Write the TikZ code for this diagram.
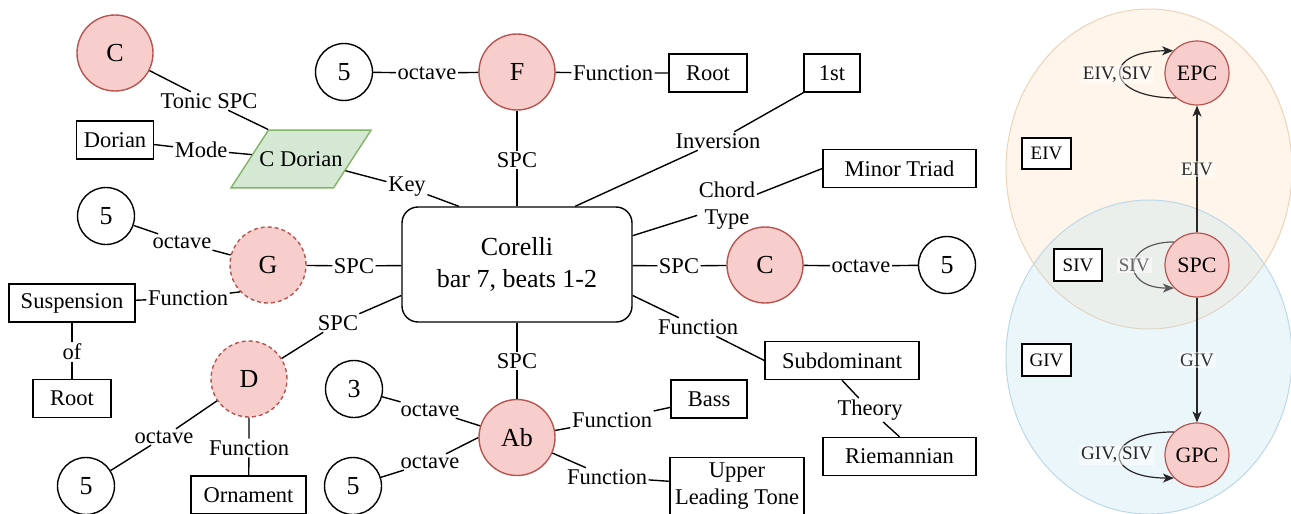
\documentclass[tikz,border=0pt]{standalone}
\usepackage{fontspec}
\setmainfont{Liberation Serif}
\usetikzlibrary{shapes.geometric,arrows.meta}
\definecolor{pcfill}{HTML}{F8CECC}
\definecolor{pcline}{HTML}{B85450}
\definecolor{gfill}{HTML}{D5E8D4}
\definecolor{gline}{HTML}{82B366}
\definecolor{ofill}{HTML}{FFE6CC}
\definecolor{oline}{HTML}{EDD3B8}
\definecolor{bfill}{HTML}{B1DDF0}
\definecolor{bline}{HTML}{BCD8E6}
\newcommand\fbig{\fontsize{26}{32}\selectfont}
\newcommand\fmid{\fontsize{22.5}{27}\selectfont}
\newcommand\fsml{\fontsize{19}{22}\selectfont}
\newcommand\fpc{\fontsize{22}{26}\selectfont}
\begin{document}
\begin{tikzpicture}[x=1pt,y=-1pt,
  pc/.style={circle,draw=pcline,fill=pcfill,line width=1.4pt,minimum size=76pt,inner sep=0pt,font=\fbig},
  pcd/.style={pc,dash pattern=on 4pt off 3pt},
  octn/.style={circle,draw,line width=1.4pt,minimum size=57pt,inner sep=0pt,font=\fbig},
  boxn/.style={rectangle,draw,line width=1.4pt,minimum height=38pt,inner sep=0pt,font=\fmid,align=center},
  lbl/.style={inner sep=1.5pt,font=\fmid,align=center},
  conn/.style={line width=1.4pt},
  rpc/.style={circle,draw=pcline,fill=pcfill,line width=1.2pt,minimum size=64pt,inner sep=0pt,font=\fpc},
  rbox/.style={rectangle,draw,fill=white,line width=1.4pt,minimum width=49pt,minimum height=31pt,inner sep=0pt,font=\fsml},
  elbl/.style={fill=white,fill opacity=0.5,text opacity=1,inner sep=2pt,font=\fsml},
  arr/.style={line width=1.2pt,draw=black!85,-{Stealth[length=11pt,width=9pt,inset=3pt]}},
]
\useasboundingbox (0,0) rectangle (1291,514);

% ---------- right panel ----------
\draw[draw=oline,fill=ofill,fill opacity=0.4,line width=1pt] (1149,169) ellipse [x radius=143pt,y radius=160pt];
\draw[draw=bline,fill=bfill,fill opacity=0.25,line width=1pt] (1149,357) ellipse [x radius=143pt,y radius=157pt];

\node[rpc] (epc) at (1197,73) {EPC};
\node[rpc] (spc) at (1197,265) {SPC};
\node[rpc] (gpc) at (1197,455) {GPC};
\node[rbox] (eivb) at (1046.5,153.5) {EIV};
\node[rbox,minimum width=48pt,minimum height=32pt] (sivb) at (1078,265) {SIV};
\node[rbox,minimum height=32pt] (givb) at (1046.5,360) {GIV};

\draw[arr] (spc) -- node[elbl,text=black!80]{EIV} (epc);
\draw[arr] (spc) -- node[elbl,text=black!80]{GIV} (gpc);
\draw[arr] (epc.230) .. controls +(-72,0) and +(-72,0) .. node[elbl,text=black!85,xshift=-3pt]{EIV, SIV} (epc.137);
\draw[arr,draw=black!65] (spc.135) .. controls +(-53,0) and +(-53,0) .. node[elbl,text=black!60]{SIV} (spc.225);
\draw[arr] (gpc.135) .. controls +(-72,0) and +(-72,0) .. node[elbl,text=black!85,xshift=-3pt]{GIV, SIV} (gpc.225);

% ---------- left panel nodes ----------
\node[rectangle,draw,rounded corners=16pt,line width=1.4pt,minimum width=230pt,minimum height=115pt,align=center,font=\fbig] (corelli) at (517,264.5) {Corelli\\bar 7, beats 1-2};

\node[pc] (cT) at (115,53) {C};
\node[lbl] (tonicL) at (209,101) {Tonic SPC};
\node[boxn,minimum width=77pt] (dorian) at (115,140) {Dorian};
\node[lbl] (modeL) at (201,150) {Mode};
\node[trapezium,trapezium left angle=57,trapezium right angle=123,
      inner xsep=-9pt,inner ysep=21.3pt,draw=gline,fill=gfill,line width=1.4pt,
      font=\fmid] (cdor) at (301,159) {C Dorian};
\node[lbl] (keyL) at (407,187) {Key};

\node[pc] (F) at (517,72) {F};
\node[lbl] (spcF) at (517,160) {SPC};
\node[octn] (o5a) at (344,72) {5};
\node[lbl] (octF) at (427,73) {octave};
\node[lbl] (funcF) at (613,73) {Function};
\node[boxn,minimum width=78pt] (rootF) at (708,73) {Root};

\node[boxn,minimum width=56pt] (first) at (832,73) {1st};
\node[lbl] (invL) at (718,141) {Inversion};
\node[boxn,minimum width=153pt] (minor) at (899.5,168.5) {Minor Triad};
\node[lbl] (chordL) at (727,206) {Chord\\Type};

\node[pc] (cR) at (765,265) {C};
\node[lbl] (spcC) at (679,266) {SPC};
\node[lbl] (octC) at (861,266) {octave};
\begin{scope}
  \clip (900,200) rectangle (976,330);
  \node[octn] (o5c) at (947,265) {5};
\end{scope}

\node[lbl] (funcS) at (698,327) {Function};
\node[boxn,minimum width=154pt] (subdom) at (842,360.5) {Subdominant};
\node[lbl] (theoryL) at (870,410) {Theory};
\node[boxn,minimum width=153pt] (riem) at (899.5,456.5) {Riemannian};

\node[pc] (ab) at (517,437.5) {Ab};
\node[lbl] (spcAb) at (517,361) {SPC};
\node[octn] (o3) at (354,389) {3};
\node[lbl] (octAb1) at (430,410) {octave};
\node[octn] (o5d) at (353,486) {5};
\node[lbl] (octAb2) at (430,462) {octave};
\node[lbl] (funcBass) at (612,420) {Function};
\node[boxn,minimum width=76pt] (bass) at (709,399) {Bass};
\node[lbl] (funcULT) at (607,477) {Function};
\node[boxn,minimum width=134pt,minimum height=57pt] (ult) at (737,486) {Upper\\Leading Tone};

\node[pcd] (g) at (268,265) {G};
\node[lbl] (spcG) at (354,266) {SPC};
\node[octn] (o5b) at (106,216) {5};
\node[lbl] (octG) at (182,242) {octave};
\node[lbl] (funcG) at (188,298) {Function};
\node[boxn,minimum width=126pt] (susp) at (72,303) {Suspension};
\node[lbl] (ofL) at (72,352) {of};
\node[boxn,minimum width=78pt] (rootS) at (72,398.5) {Root};

\node[pcd] (d) at (249,379) {D};
\node[lbl] (spcD) at (338,323) {SPC};
\node[lbl] (octD) at (164,437) {octave};
\node[octn] (o5e) at (86,486) {5};
\node[lbl] (funcD) at (249,448) {Function};
\node[boxn,minimum width=115pt] (orn) at (248.5,495) {Ornament};

% ---------- connectors ----------
\draw[conn] (cT) -- (tonicL) -- (cdor.top left corner);
\draw[conn] (dorian) -- (modeL) -- (cdor);
\draw[conn] (cdor) -- (keyL) -- (corelli.135);
\draw[conn] (F) -- (spcF) -- (corelli);
\draw[conn] (o5a) -- (octF) -- (F);
\draw[conn] (F) -- (funcF) -- (rootF);
\draw[conn] (corelli.45) -- (invL) -- (first.south west);
\draw[conn] (corelli.14) -- (chordL) -- (minor.west);
\draw[conn] (corelli) -- (spcC) -- (cR);
\draw[conn] (cR) -- (octC) -- (o5c);
\draw[conn] (corelli.-15) -- (funcS) -- (subdom.west);
\draw[conn] (subdom.south) -- (theoryL) -- (riem.north);
\draw[conn] (corelli) -- (spcAb) -- (ab);
\draw[conn] (o3) -- (octAb1) -- (ab);
\draw[conn] (o5d) -- (octAb2) -- (ab.180);
\draw[conn] (ab) -- (funcBass) -- (bass);
\draw[conn] (ab) -- (funcULT) -- (ult);
\draw[conn] (corelli) -- (spcG) -- (g);
\draw[conn] (o5b) -- (octG) -- (g);
\draw[conn] (g.224) -- (funcG) -- (susp);
\draw[conn] (susp) -- (ofL) -- (rootS);
\draw[conn] (corelli.195) -- (spcD) -- (d);
\draw[conn] (d) -- (octD) -- (o5e);
\draw[conn] (d) -- (funcD) -- (orn);
\end{tikzpicture}
\end{document}
